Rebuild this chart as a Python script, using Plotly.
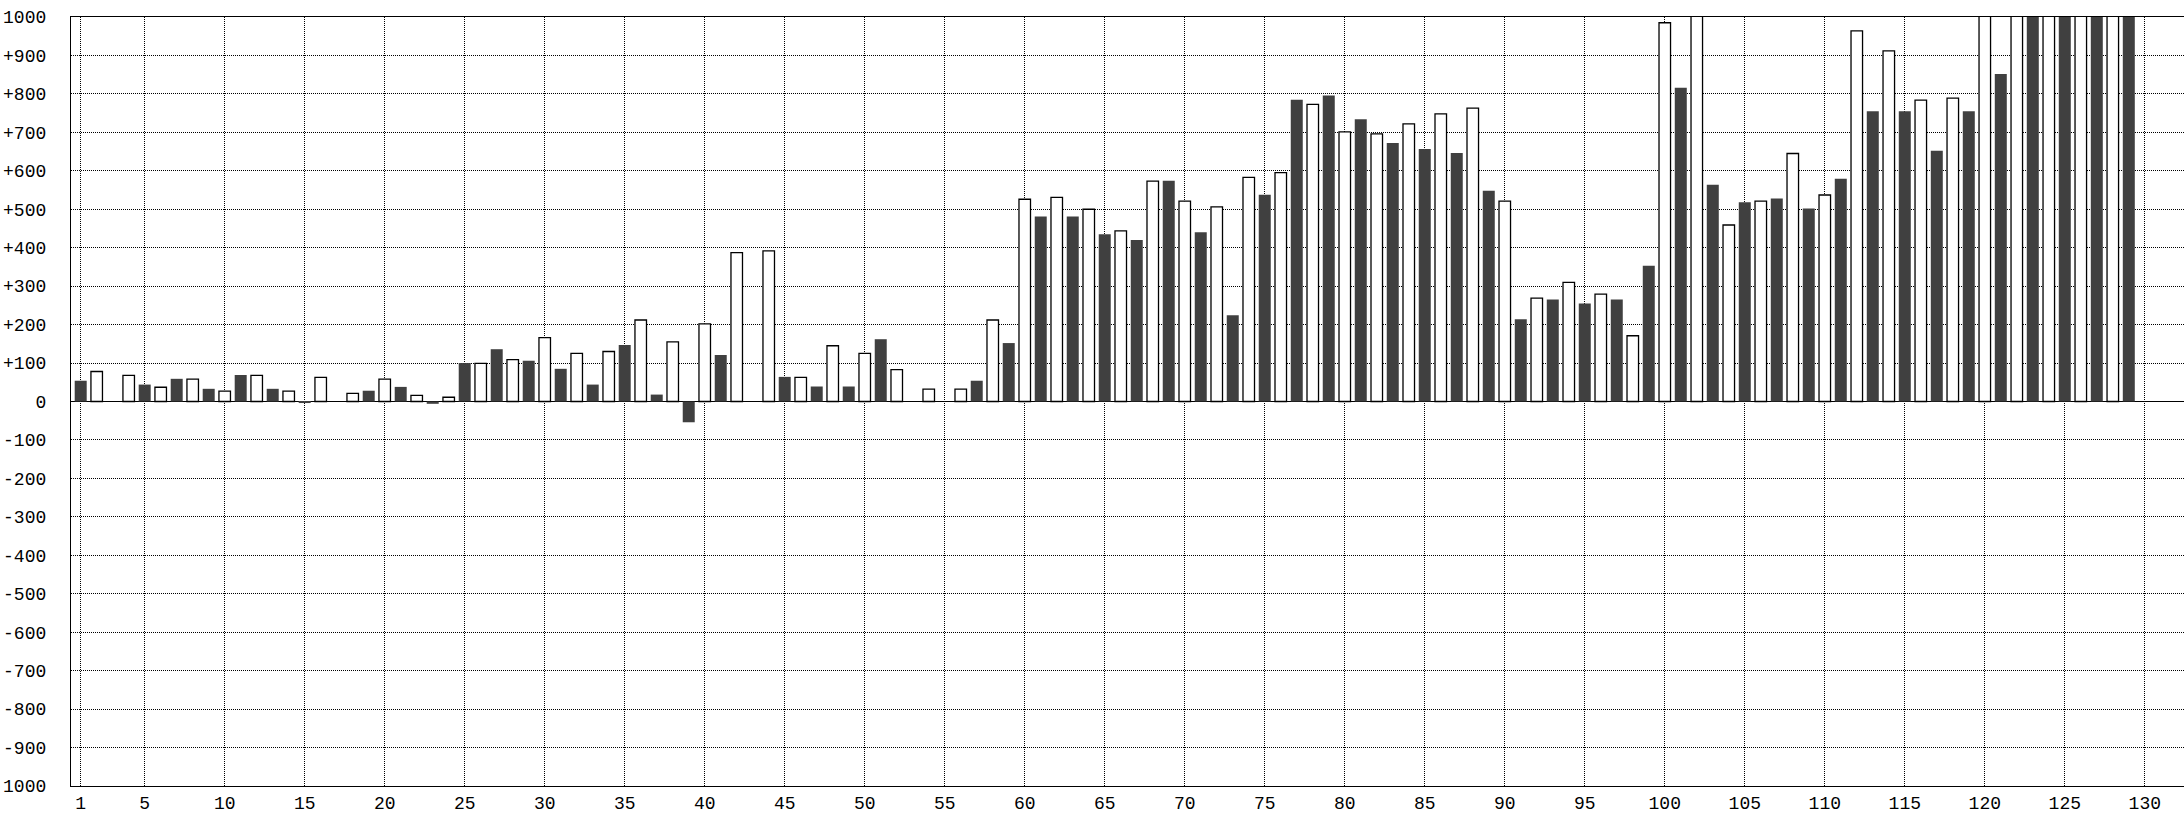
import plotly.graph_objects as go

# Dark (filled) bars at odd positions
dark_x = list(range(1, 130, 2))
dark_vals = [54, 0, 44, 59, 33, 69, 33, -4, 0, 28,
             38, -6, 100, 136, 106, 85, 44, 147, 18, -54,
             121, 0, 64, 39, 39, 162, 0, 0, 54, 152,
             481, 481, 435, 420, 574, 440, 224, 538, 785, 796,
             734, 672, 657, 646, 548, 214, 265, 255, 265, 353,
             816, 564, 518, 528, 502, 579, 755, 755, 652, 755,
             852, 1100, 1100, 1100, 1100]

# White (outlined) bars at even positions
white_x = list(range(2, 129, 2))
white_vals = [78, 68, 37, 58, 27, 68, 27, 63, 21, 58,
              16, 11, 99, 109, 166, 125, 130, 212, 155, 202,
              387, 392, 63, 145, 125, 83, 32, 32, 212, 526,
              531, 500, 444, 573, 521, 506, 583, 595, 773, 701,
              696, 722, 748, 763, 521, 269, 310, 279, 171, 985,
              1100, 459, 521, 645, 537, 964, 912, 784, 789, 1100,
              1100, 1100, 1100, 1100]

x_tickvals = [1] + list(range(5, 131, 5))
x_ticktext = [str(v) for v in x_tickvals]

y_tickvals = list(range(-1000, 1001, 100))
y_ticktext = []
for v in y_tickvals:
    if v == 1000 or v == -1000:
        y_ticktext.append("1000")
    elif v > 0:
        y_ticktext.append("+" + str(v))
    else:
        y_ticktext.append(str(v))

fig = go.Figure()
fig.add_trace(go.Bar(x=dark_x, y=dark_vals, width=0.75,
                     marker=dict(color="#404040", line=dict(width=0))))
fig.add_trace(go.Bar(x=white_x, y=white_vals, width=0.72,
                     marker=dict(color="white", line=dict(color="black", width=1.3))))

font = dict(family="Liberation Mono", size=18, color="black")

fig.update_layout(
    width=2184, height=814,
    margin=dict(l=71, r=0, t=17, b=21),
    plot_bgcolor="white", paper_bgcolor="white",
    barmode="overlay", showlegend=False,
    font=font,
)
fig.update_xaxes(
    range=[0.394, 132.45], tickvals=x_tickvals, ticktext=x_ticktext,
    showgrid=True, gridcolor="black", gridwidth=1, griddash="1px,1px",
    showline=True, linecolor="black", linewidth=1.3, mirror=True,
    ticks="", zeroline=False, tickfont=font, ticklabelstandoff=0,
)
fig.update_yaxes(
    range=[-1000, 1000], tickvals=y_tickvals, ticktext=y_ticktext,
    showgrid=True, gridcolor="black", gridwidth=1, griddash="1px,1px",
    showline=True, linecolor="black", linewidth=1.3, mirror=False,
    zeroline=True, zerolinecolor="black", zerolinewidth=1.3,
    ticks="", tickfont=font, ticklabelstandoff=20,
)

fig.write_html("out.html",
               config={"displayModeBar": False},
               post_script="document.body.style.margin='0';"
                           "document.body.style.overflow='hidden';")
